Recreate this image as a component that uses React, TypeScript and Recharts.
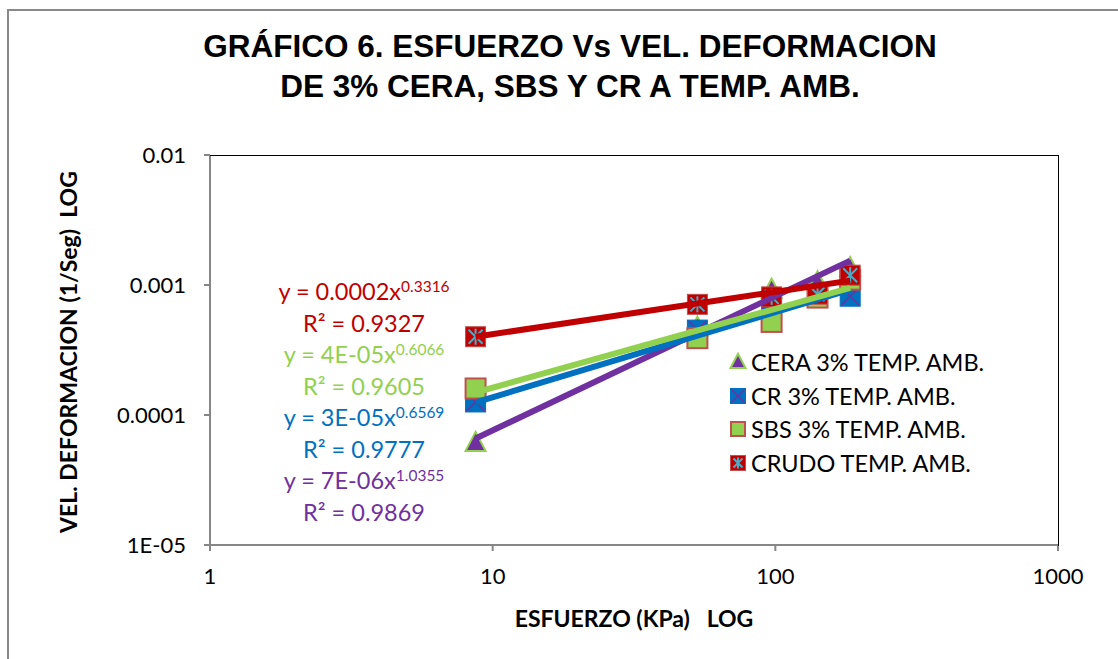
import React from 'react';
import { ScatterChart, Scatter, XAxis, YAxis } from 'recharts';

// stress (KPa) shared by all four series
const esfuerzo = [8.7, 53, 97, 141, 184];

// strain rate (1/Seg)
const cera = [6.1e-5, 4.7e-4, 9.2e-4, 1.05e-3, 1.35e-3];
const cr = [1.26e-4, 4.5e-4, 7.7e-4, 8.3e-4, 8.2e-4];
const sbs = [1.6e-4, 3.9e-4, 5.2e-4, 8.0e-4, 1.1e-3];
const crudo = [4.0e-4, 7.1e-4, 8.1e-4, 8.5e-4, 1.19e-3];

// power trendline ends (first and last stress)
const trendX = [8.7, 184];
const ceraTrend = [6.6e-5, 1.54e-3];
const crTrend = [1.25e-4, 9.2e-4];
const sbsTrend = [1.49e-4, 9.5e-4];
const crudoTrend = [4.0e-4, 1.08e-3];

const xTicks = [1, 10, 100, 1000];
const yTicks = [1e-5, 1e-4, 1e-3, 1e-2];
const yTickLabels: Record<string, string> = { '0.00001': '1E-05', '0.0001': '0.0001', '0.001': '0.001', '0.01': '0.01' };

const equations = [
  { eq: 'y = 0.0002x', exp: '0.3316', r2: 'R² = 0.9327', color: '#C00000' },
  { eq: 'y = 4E-05x', exp: '0.6066', r2: 'R² = 0.9605', color: '#92D050' },
  { eq: 'y = 3E-05x', exp: '0.6569', r2: 'R² = 0.9777', color: '#0070C0' },
  { eq: 'y = 7E-06x', exp: '1.0355', r2: 'R² = 0.9869', color: '#7030A0' },
];

const legendNames = ['CERA 3% TEMP. AMB.', 'CR 3% TEMP. AMB.', 'SBS 3% TEMP. AMB.', 'CRUDO TEMP. AMB.'];

const toPoints = (xs: number[], ys: number[]) => xs.map((x, i) => ({ x, y: ys[i] }));

const Triangle = (s: number) => (props: any) => {
  const { cx, cy } = props;
  return (
    <polygon
      points={`${cx},${cy - s * 0.55} ${cx - s / 2},${cy + s * 0.4} ${cx + s / 2},${cy + s * 0.4}`}
      fill="#7030A0" stroke="#92D050" strokeWidth={2}
    />
  );
};

const CrSquare = (s: number) => (props: any) => {
  const { cx, cy } = props;
  const h = s / 2;
  return (
    <g>
      <rect x={cx - h} y={cy - h} width={s} height={s} fill="#0070C0" stroke="#0070C0" strokeWidth={1} />
      <line x1={cx - h + 1} y1={cy - h + 1} x2={cx + h - 1} y2={cy + h - 1} stroke="#7030A0" strokeWidth={1.5} />
      <line x1={cx - h + 1} y1={cy + h - 1} x2={cx + h - 1} y2={cy - h + 1} stroke="#7030A0" strokeWidth={1.5} />
    </g>
  );
};

const SbsSquare = (s: number) => (props: any) => {
  const { cx, cy } = props;
  const h = s / 2;
  return <rect x={cx - h} y={cy - h} width={s} height={s} fill="#92D050" stroke="#C0504D" strokeWidth={2} />;
};

const CrudoSquare = (s: number) => (props: any) => {
  const { cx, cy } = props;
  const h = s / 2;
  const k = h - 3;
  return (
    <g>
      <rect x={cx - h} y={cy - h} width={s} height={s} fill="#C00000" stroke="#C0504D" strokeWidth={1} />
      <line x1={cx - k} y1={cy - k} x2={cx + k} y2={cy + k} stroke="#4BACC6" strokeWidth={2} />
      <line x1={cx - k} y1={cy + k} x2={cx + k} y2={cy - k} stroke="#4BACC6" strokeWidth={2} />
      <line x1={cx} y1={cy - k - 1} x2={cx} y2={cy + k + 1} stroke="#4BACC6" strokeWidth={2} />
    </g>
  );
};

const NoDot = () => <g />;

const legendIcons = [Triangle(15), CrSquare(15), SbsSquare(14), CrudoSquare(15)];

export default function App() {
  const font = 'Lato, "Open Sans", sans-serif';
  return (
    <div style={{ position: 'relative', width: 1118, height: 659, overflow: 'hidden', background: '#fff', fontFamily: font }}>
      <style>{'body{margin:0;overflow:hidden}'}</style>
      <div style={{ position: 'absolute', left: 7, top: 9, width: 1300, height: 800, border: '2px solid #8a8a8a' }} />

      <div style={{ position: 'absolute', left: 0, width: 1140, top: 26, textAlign: 'center', fontFamily: '"Liberation Sans", Arial, sans-serif', fontWeight: 'bold', fontSize: 31.5, lineHeight: '40px', color: '#000' }}>
        GRÁFICO 6. ESFUERZO Vs VEL. DEFORMACION<br />DE 3% CERA, SBS Y CR A TEMP. AMB.
      </div>

      <ScatterChart width={1118} height={659} margin={{ top: 155, right: 60, bottom: 84, left: 150 }} style={{ position: 'absolute', left: 0, top: 0 }}>
        <XAxis
          dataKey="x" type="number" scale="log" domain={[1, 1000]} ticks={xTicks} allowDataOverflow
          height={30} stroke="#868686" strokeWidth={2} tickSize={6} tickMargin={17}
          tick={{ fill: '#000', fontSize: 22, fontFamily: font }}
        />
        <YAxis
          dataKey="y" type="number" scale="log" domain={[1e-5, 0.01]} ticks={yTicks} allowDataOverflow
          width={60} stroke="#868686" strokeWidth={2} tickSize={6} tickMargin={18}
          tick={{ fill: '#000', fontSize: 22, fontFamily: font }}
          tickFormatter={(v: number) => yTickLabels[String(v)] ?? String(v)}
        />
        <Scatter data={toPoints(esfuerzo, cera)} shape={Triangle(20)} isAnimationActive={false} />
        <Scatter data={toPoints(esfuerzo, cr)} shape={CrSquare(20)} isAnimationActive={false} />
        <Scatter data={toPoints(esfuerzo, sbs)} shape={SbsSquare(20)} isAnimationActive={false} />
        <Scatter data={toPoints(esfuerzo, crudo)} shape={CrudoSquare(20)} isAnimationActive={false} />
        <Scatter data={toPoints(trendX, ceraTrend)} line={{ stroke: '#7030A0', strokeWidth: 6 }} shape={NoDot} isAnimationActive={false} />
        <Scatter data={toPoints(trendX, crTrend)} line={{ stroke: '#0070C0', strokeWidth: 6 }} shape={NoDot} isAnimationActive={false} />
        <Scatter data={toPoints(trendX, sbsTrend)} line={{ stroke: '#92D050', strokeWidth: 6 }} shape={NoDot} isAnimationActive={false} />
        <Scatter data={toPoints(trendX, crudoTrend)} line={{ stroke: '#C00000', strokeWidth: 6 }} shape={NoDot} isAnimationActive={false} />
      </ScatterChart>

      {/* plot area frame: top and right edges are black */}
      <div style={{ position: 'absolute', left: 210, top: 155, width: 848, height: 390, borderTop: '1.5px solid #000', borderRight: '1.5px solid #000', pointerEvents: 'none' }} />

      <div style={{ position: 'absolute', left: 68, top: 352, transform: 'translate(-50%, -50%) rotate(-90deg)', whiteSpace: 'pre', fontWeight: 'bold', fontSize: 23, color: '#000' }}>
        {'VEL. DEFORMACION (1/Seg)  LOG'}
      </div>
      <div style={{ position: 'absolute', left: 634, top: 618, transform: 'translate(-50%, -50%)', whiteSpace: 'pre', fontWeight: 'bold', fontSize: 23, color: '#000' }}>
        {'ESFUERZO (KPa)   LOG'}
      </div>

      {equations.map((e, i) => (
        <React.Fragment key={e.eq}>
          <div style={{ position: 'absolute', left: 364, top: 291 + i * 63, transform: 'translate(-50%, -50%)', whiteSpace: 'pre', fontSize: 23.5, color: e.color }}>
            {e.eq}<sup style={{ fontSize: 15.5 }}>{e.exp}</sup>
          </div>
          <div style={{ position: 'absolute', left: 364, top: 323 + i * 63, transform: 'translate(-50%, -50%)', whiteSpace: 'pre', fontSize: 23.5, color: e.color }}>
            {e.r2}
          </div>
        </React.Fragment>
      ))}

      {legendNames.map((name, i) => {
        const Icon = legendIcons[i];
        return (
          <div key={name} style={{ position: 'absolute', left: 728, top: 349 + i * 33.7, height: 26, display: 'flex', alignItems: 'center', whiteSpace: 'pre', fontSize: 23.5, color: '#000' }}>
            <svg width={20} height={20} style={{ marginRight: 3 }}>
              <Icon cx={10} cy={10} />
            </svg>
            {name}
          </div>
        );
      })}
    </div>
  );
}
